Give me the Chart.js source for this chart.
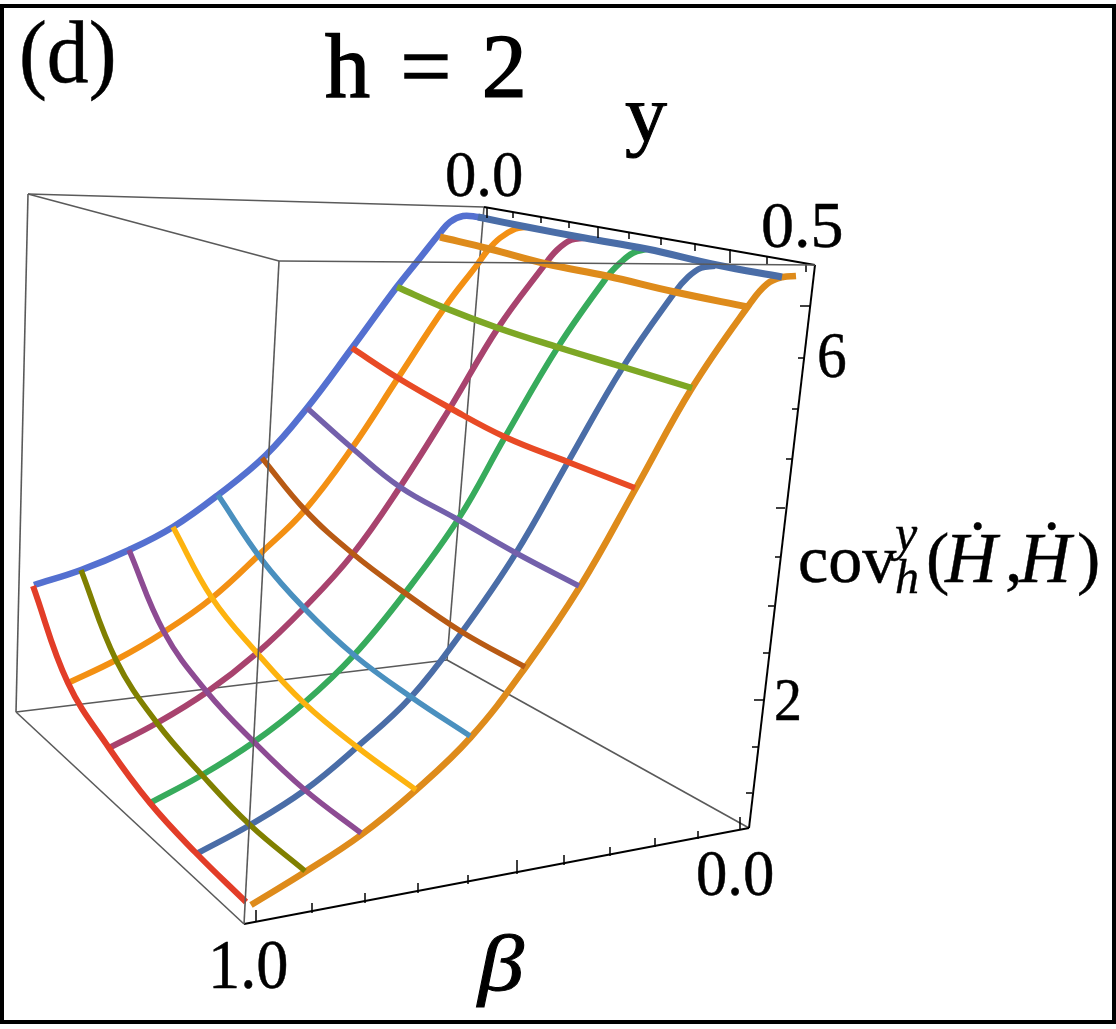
<!DOCTYPE html>
<html>
<head>
<meta charset="utf-8">
<script src="https://cdn.jsdelivr.net/npm/chart.js@4"></script>
<style>
    html, body { margin: 0; padding: 0; background: #fff; }
    #page { position: relative; width: 1116px; height: 1029px; overflow: hidden; background: #fff; }
    #frame { position: absolute; left: 0; top: 4px; width: 1116px; height: 1020px; box-sizing: border-box; border: solid #000; border-width: 4px; }
    #plot { position: absolute; left: 0; top: 0; }
    .t { position: absolute; font-family: "Liberation Serif", serif; color: #000; line-height: 1; white-space: pre; transform-origin: left top; }
</style>
</head>
<body>
<div id="page">
    <div id="frame"></div>
    <canvas id="plot" width="1116" height="1029"></canvas>
</div>
<script>
// the plot is a projected 3D surface, so every value is [across, down]

// grid lines going from the top of the surface down to the lower left
const lineA = [[484,218],[478,217],[463,216],[450,222],[440,233],[420,258],[396,288],[352,348],[307,408],[266,455],[218,495],[173,527],[129,550],[81,570],[34,585]];
const lineB = [[527,227],[515,229],[500,238],[488,250],[477,265],[445,307],[398,378],[352,448],[305,510],[262,552],[212,598],[164,632],[116,660],[68,683]];
const lineC = [[585,238],[571,240],[557,250],[543,267],[498,328],[450,408],[400,487],[352,555],[304,608],[257,653],[207,692],[157,723],[109,748]];
const lineD = [[647,249],[633,253],[620,263],[607,277],[558,347],[505,437],[459,518],[405,593],[354,655],[304,703],[254,742],[202,775],[150,803]];
const lineE = [[715,266],[701,268],[688,277],[675,292],[623,367],[568,462],[516,553],[462,632],[411,697],[357,747],[305,790],[250,825],[198,853]];
const lineF = [[796,276],[783,277],[767,284],[749,305],[692,388],[636,488],[581,585],[525,668],[471,737],[416,790],[361,835],[305,872],[251,905]];

// grid lines going across the surface
const crossA = [[478,217],[527,227],[585,238],[647,249],[717,265],[782,277]];
const crossB = [[440,237],[490,249],[547,264],[607,276],[675,292],[748,307]];
const crossC = [[397,287],[445,308],[498,328],[557,347],[623,367],[692,388]];
const crossD = [[352,348],[398,378],[450,408],[505,437],[568,462],[635,488]];
const crossE = [[307,408],[352,448],[400,487],[455,518],[516,553],[579,586]];
const crossF = [[262,458],[305,510],[352,553],[405,593],[462,632],[525,667]];
const crossG = [[218,495],[262,560],[304,608],[354,655],[411,697],[470,736]];
const crossH = [[173,527],[212,598],[257,653],[304,703],[357,747],[416,790]];
const crossI = [[129,550],[164,632],[207,692],[254,742],[305,790],[361,833]];
const crossJ = [[81,570],[116,660],[157,723],[202,775],[250,825],[305,871]];
const crossK = [[33,586],[68,683],[109,748],[150,803],[195,852],[246,902]];

// bounding box edges
const boxBack = [[28,194],[484,207]];
const boxSide = [[28,194],[279,261]];
const boxLeft = [[28,194],[16,712]];
const boxFloorA = [[16,712],[244,924]];
const boxFloorB = [[16,712],[447,660]];
const boxFloorC = [[447,660],[749,828]];
const boxInner = [[484,207],[447,660]];
const boxTop = [[279,261],[815,265]];
const boxFront = [[279,261],[244,924]];
const axisBeta = [[244,924],[749,828]];
const axisCov = [[749,828],[815,265]];
const axisY = [[484,207],[815,265]];

// tick marks, from end to end
const ticksBeta = [[256,910,256,922],[312,903,312,913],[365,893,365,903],[418,883,418,893],[468,875,468,884],[517,860,517,874],[564,855,564,865],[610,847,610,856],[655,838,655,847],[698,831,698,839],[740,817,740,830]];
const ticksCov = [[800,306,810,306],[798,358,804,358],[792,409,798,409],[786,459,792,459],[776,508,785,508],[775,557,780,557],[768,606,774,606],[763,653,769,653],[754,700,764,700],[752,747,758,747],[746,793,752,793]];
const ticksY = [[487,207,487,218],[513,212,513,218],[541,217,541,223],[569,222,569,228],[598,227,598,238],[629,232,629,239],[661,237,661,245],[695,243,695,251],[730,249,730,263],[767,257,767,265],[806,263,806,272]];

// text as it reads in the picture
const panelLabel = '(d)';
const titleLabel = 'h = 2';
const yLabel = 'y';
const betaLabel = 'β';
const yTickLabels = ['0.0', '0.5'];
const covTickLabels = ['6', '2'];
const betaTickLabels = ['1.0', '0.0'];

const toPoints = list => list.map(p => ({ x: p[0], y: p[1] }));
const toSegments = list => list.flatMap(s => [{ x: s[0], y: s[1] }, { x: s[2], y: s[3] }, { x: NaN, y: NaN }]);

const curve = (data, color, width) => ({
    data: toPoints(data),
    borderColor: color,
    borderWidth: width,
    tension: 0.4,
    pointRadius: 0,
    showLine: true,
    order: 5
});
const edge = (data, color, width, order) => ({
    data: data,
    borderColor: color,
    borderWidth: width,
    tension: 0,
    pointRadius: 0,
    showLine: true,
    order: order
});

const GRAY = '#5a5a5a';
const datasets = [
    edge(toPoints(boxBack), GRAY, 1.6, 9),
    edge(toPoints(boxSide), GRAY, 1.6, 9),
    edge(toPoints(boxLeft), GRAY, 1.6, 9),
    edge(toPoints(boxFloorA), GRAY, 1.6, 9),
    edge(toPoints(boxFloorB), GRAY, 1.6, 9),
    edge(toPoints(boxFloorC), GRAY, 1.6, 9),
    edge(toPoints(boxInner), GRAY, 1.6, 9),
    curve(crossA, '#4a6da7', 7),
    curve(crossB, '#de8b1b', 7),
    curve(crossC, '#7da725', 6.5),
    curve(crossD, '#e84a25', 6),
    curve(crossE, '#7360ab', 5.5),
    curve(crossF, '#b85a14', 5.5),
    curve(crossG, '#4a90bf', 5.5),
    curve(crossH, '#fdb30f', 5.5),
    curve(crossI, '#8d4b93', 5.5),
    curve(crossJ, '#808000', 5.5),
    curve(crossK, '#e23d28', 6),
    curve(lineF, '#de8b1b', 6.5),
    curve(lineE, '#4a6da7', 6),
    curve(lineD, '#37ab5c', 6),
    curve(lineC, '#a8436e', 6),
    curve(lineB, '#f39013', 6),
    curve(lineA, '#5470d0', 6.5),
    edge(toPoints(boxTop), GRAY, 1.6, 1),
    edge(toPoints(boxFront), GRAY, 1.6, 1),
    edge(toPoints(axisBeta), '#000', 2, 1),
    edge(toPoints(axisCov), '#000', 2, 1),
    edge(toPoints(axisY), '#000', 2, 1),
    edge(toSegments(ticksBeta), '#000', 1.5, 1),
    edge(toSegments(ticksCov), '#000', 1.5, 1),
    edge(toSegments(ticksY), '#000', 1.5, 1)
];

new Chart(document.getElementById('plot'), {
    type: 'scatter',
    data: { datasets: datasets },
    options: {
        responsive: false,
        animation: false,
        layout: { padding: 0 },
        plugins: { legend: { display: false }, tooltip: { enabled: false } },
        scales: {
            x: { type: 'linear', display: false, min: 0, max: 1116 },
            y: { type: 'linear', display: false, min: 0, max: 1029, reverse: true }
        }
    }
});

// left edge, baseline, font size, horizontal squeeze
const page = document.getElementById('page');
const putText = (text, left, base, size, squeeze, italic, stroke, wordGap) => {
    const el = document.createElement('div');
    el.className = 't';
    el.textContent = text;
    el.style.left = left + 'px';
    el.style.top = (base - size * 0.8375) + 'px';
    el.style.fontSize = size + 'px';
    el.style.transform = 'scaleX(' + (squeeze || 1) + ')';
    if (italic) el.style.fontStyle = 'italic';
    if (stroke) el.style.webkitTextStroke = stroke + 'px #000';
    if (wordGap) el.style.wordSpacing = wordGap + 'px';
    page.appendChild(el);
};

putText(panelLabel, 19, 83, 88, 0.95, false, 0.5);
putText(titleLabel, 325, 97, 90, 1, false, 1.5, 8);
putText(yLabel, 625, 141, 80, 1.05, false, 1);
putText(betaLabel, 478, 990, 80, 1.15, true, 1);
putText(yTickLabels[0], 445, 196, 66, 0.95, false, 0.5);
putText(yTickLabels[1], 761, 247, 66, 1, false, 0.5);
putText(covTickLabels[0], 817, 377, 66, 0.9, false, 0.5);
putText(covTickLabels[1], 774, 720, 62, 0.9, false, 0.5);
putText(betaTickLabels[0], 208, 989, 70, 0.92, false, 0.5);
putText(betaTickLabels[1], 696, 895, 66, 0.95, false, 0.5);

putText('cov', 798, 582, 68, 1, false, 0.5);
putText('y', 895, 550, 50, 1, true, 0.4);
putText('h', 895, 593, 48, 1, true, 0.4);
putText('(', 926, 582, 70, 1, false, 0.4);
putText('Ḣ', 945, 582, 72, 1, true, 0.4);
putText(',', 1005, 582, 70, 1, false, 0.4);
putText('Ḣ', 1019, 582, 72, 1, true, 0.4);
putText(')', 1077, 582, 70, 1, false, 0.4);
</script>
</body>
</html>
